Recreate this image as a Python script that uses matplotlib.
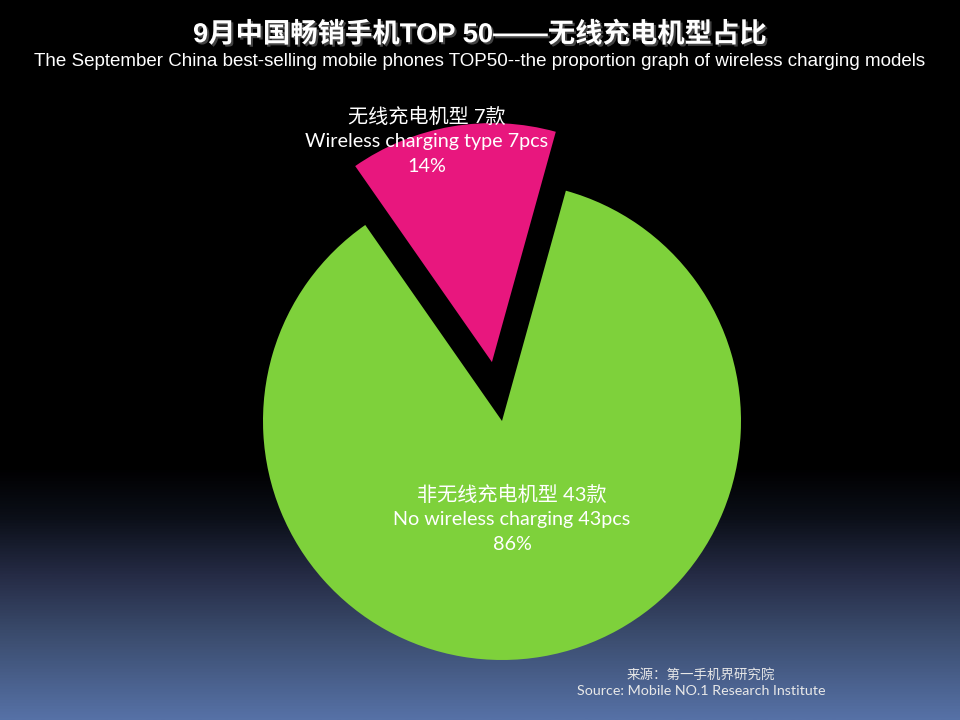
import numpy as np
import matplotlib
matplotlib.use("Agg")
import matplotlib.pyplot as plt
import matplotlib.patheffects as pe
from matplotlib.colors import LinearSegmentedColormap

# ---- data ----
categories_cn = ["无线充电机型 7款", "非无线充电机型 43款"]
categories_en = ["Wireless charging type 7pcs", "No wireless charging 43pcs"]
counts = [7, 43]
colors = ["#E8177E", "#7ED13B"]
explode = [0.25, 0.0]
title_cn = "9月中国畅销手机TOP 50——无线充电机型占比"
subtitle_en = ("The September China best-selling mobile phones TOP50--the proportion "
               "graph of wireless charging models")
source_cn = "来源：第一手机界研究院"
source_en = "Source: Mobile NO.1 Research Institute"

W, H = 960, 720
fig = plt.figure(figsize=(W / 100, H / 100), dpi=100)

# ---- background gradient ----
bg = fig.add_axes([0, 0, 1, 1])
bg.set_axis_off()
cmap = LinearSegmentedColormap.from_list(
    "bg", [(0.0, "#000000"), (0.65, "#000000"), (0.72, "#0b0f18"),
           (0.80, "#252b45"), (0.88, "#3a4b6c"), (1.0, "#5671a6")])
grad = np.linspace(0, 1, 512).reshape(-1, 1)
bg.imshow(grad, aspect="auto", cmap=cmap, extent=[0, 1, 0, 1], origin="upper")
bg.set_xlim(0, 1)
bg.set_ylim(0, 1)

# ---- pie ----
cx, cy, R = 502, 421, 239
lim = 1.3
side = 2 * lim * R
ax = fig.add_axes([(cx - side / 2) / W, (H - cy - side / 2) / H, side / W, side / H])
ax.set_axis_off()
total = sum(counts)
wedges, _ = ax.pie(counts, colors=colors, explode=explode, startangle=74.5,
                   counterclock=True, radius=1.0, wedgeprops=dict(linewidth=0))
ax.set_xlim(-lim, lim)
ax.set_ylim(-lim, lim)
ax.set_aspect("equal")

lab_font = ["Lato", "Noto Sans CJK SC"]
# label centre x (px) and first-line y (px)
label_px = [(427, 116), (512, 494)]
line_gap = 25.5
for i, (lx, ly) in enumerate(label_px):
    pct = round(100 * counts[i] / total)
    lines = [(categories_cn[i], 14.5), (categories_en[i], 14.2), (f"{pct}%", 14.2)]
    for j, (s, fs) in enumerate(lines):
        fig.text(lx / W, 1 - (ly + j * line_gap) / H, s, ha="center", va="center",
                 color="white", fontsize=fs, family=lab_font)

# ---- titles ----
fig.text(0.5, 1 - 35 / H, title_cn, ha="center", va="center", color="white",
         fontsize=19.7, fontweight="bold", family=["Liberation Sans", "Noto Sans CJK SC"],
         path_effects=[pe.withSimplePatchShadow(offset=(1.5, -1.5), shadow_rgbFace="#555555", alpha=0.8)])
fig.text(0.5, 1 - 61 / H, subtitle_en, ha="center", va="center", color="white",
         fontsize=13.5, family=["Liberation Sans"])

fig.text(701 / W, 1 - 675 / H, source_cn, ha="center", va="center", color="#e8e8e8",
         fontsize=9.7, family=["Noto Sans CJK SC"])
fig.text(701 / W, 1 - 691 / H, source_en, ha="center", va="center", color="#e8e8e8",
         fontsize=10.3, family=["Lato"])

fig.savefig("out.png", dpi=100)
